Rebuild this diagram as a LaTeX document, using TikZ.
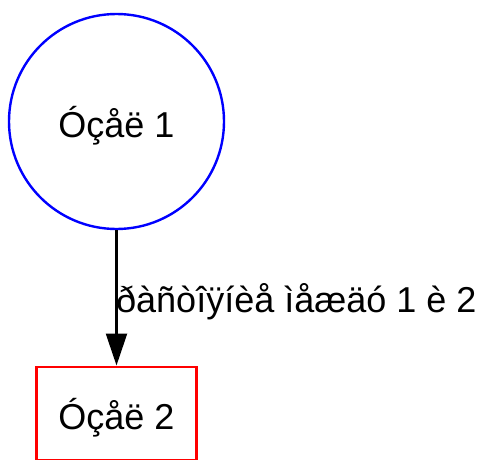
\documentclass[tikz,border=0pt]{standalone}
\usepackage{fontspec}
\setmainfont{Liberation Sans}
\usetikzlibrary{arrows.meta}

\tikzset{
    big/.style={font=\fontsize{36}{43}\selectfont},
    vertex/.style={big, draw, line width=2.4pt, inner sep=0pt, text height=31pt, text depth=0pt},
    link/.style={line width=2.4pt, -{Triangle[length=32pt, width=21pt]}},
}

\begin{document}
\begin{tikzpicture}[x=1pt, y=-1pt]
        \useasboundingbox (0,0) rectangle (482,460);

        \node[vertex, circle, blue, text=black, minimum size=215pt] (n1) at (116.5,121.5) {Óçåë 1};
        \node[vertex, rectangle, red, text=black, minimum width=160pt, minimum height=93.6pt] (n2) at (116.5,413.5) {Óçåë 2};

        \draw[link] (n1) -- node[big, pos=0.608, anchor=base west, inner sep=0pt, xshift=-1.5pt] (l12) {ðàñòîÿíèå ìåæäó 1 è 2} (n2);
    \end{tikzpicture}
\end{document}
